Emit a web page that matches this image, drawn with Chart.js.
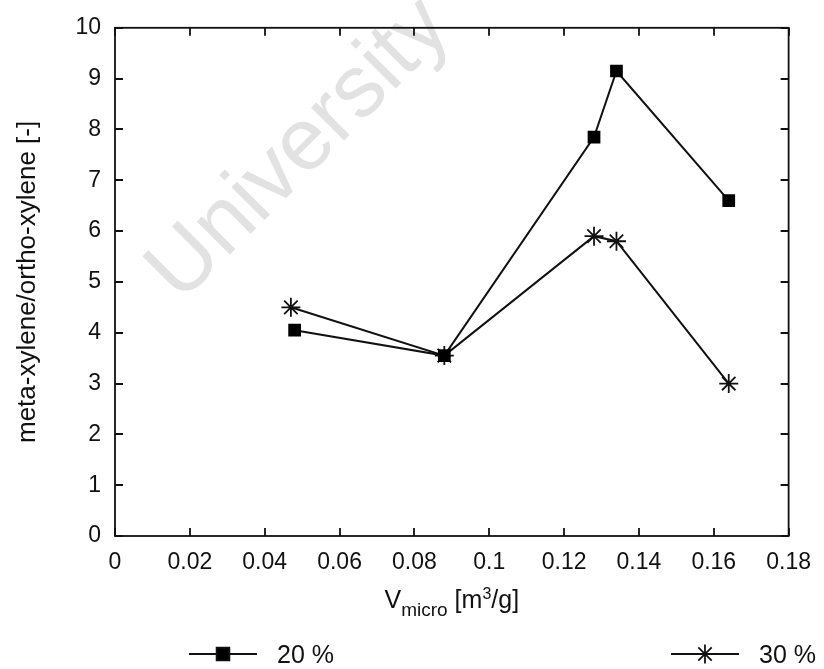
<!DOCTYPE html>
<html>
<head>
<meta charset="utf-8">
<script src="https://cdn.jsdelivr.net/npm/chart.js@4/dist/chart.umd.min.js"></script>
<style>
  html, body { margin: 0; padding: 0; background: #fff; }
  #wrap { width: 824px; height: 669px; position: relative; }
</style>
</head>
<body>
<div id="wrap"><canvas id="c" width="824" height="669"></canvas></div>
<script>
// micropore volume [m3/g] and meta/ortho xylene ratio per loading
const vmicro20 = [0.048, 0.088, 0.128, 0.134, 0.164];
const ratio20 = [4.05, 3.55, 7.85, 9.15, 6.6];
const vmicro30 = [0.047, 0.088, 0.128, 0.134, 0.164];
const ratio30 = [4.5, 3.55, 5.9, 5.8, 3.0];
const seriesNames = ['20 %', '30 %'];
const xTickLabels = ['0', '0.02', '0.04', '0.06', '0.08', '0.1', '0.12', '0.14', '0.16', '0.18'];
const yTickLabels = ['0', '1', '2', '3', '4', '5', '6', '7', '8', '9', '10'];

const FONT = "'Liberation Sans', Arial, Helvetica, sans-serif";

function toPoints(xs, ys) {
  return xs.map((x, i) => ({ x: x, y: ys[i] }));
}

// gnuplot-style frame with inward ticks on all four sides
const framePlugin = {
  id: 'frame',
  beforeDatasetsDraw(chart) {
    const { ctx } = chart;
    // faint watermark behind the data
    ctx.save();
    ctx.translate(300, 150);
    ctx.rotate(-45 * Math.PI / 180);
    ctx.fillStyle = '#e2e2e2';
    ctx.font = '88px ' + FONT;
    ctx.textAlign = 'center';
    ctx.textBaseline = 'middle';
    ctx.fillText('University', 0, 0);
    ctx.restore();
  },
  afterDatasetsDraw(chart) {
    const { ctx, chartArea: a, scales } = chart;
    ctx.save();
    ctx.strokeStyle = '#111';
    ctx.lineWidth = 1.8;
    ctx.strokeRect(a.left, a.top, a.right - a.left, a.bottom - a.top);
    const len = 8;
    ctx.beginPath();
    scales.x.ticks.forEach(t => {
      const px = Math.round(scales.x.getPixelForValue(t.value));
      ctx.moveTo(px, a.bottom); ctx.lineTo(px, a.bottom - len);
      ctx.moveTo(px, a.top); ctx.lineTo(px, a.top + len);
    });
    scales.y.ticks.forEach(t => {
      const py = Math.round(scales.y.getPixelForValue(t.value));
      ctx.moveTo(a.left, py); ctx.lineTo(a.left + len, py);
      ctx.moveTo(a.right, py); ctx.lineTo(a.right - len, py);
    });
    ctx.stroke();
    ctx.restore();
  },
  afterDraw(chart) {
    const { ctx, chartArea: a } = chart;
    ctx.save();
    ctx.fillStyle = '#111';
    ctx.textBaseline = 'alphabetic';

    // x title: V_micro [m^3/g]
    const cx = (a.left + a.right) / 2;
    const base = 608;
    const parts = [
      { t: 'V', size: 25, dy: 0 },
      { t: 'micro', size: 19, dy: 8 },
      { t: ' [m', size: 25, dy: 0 },
      { t: '3', size: 16, dy: -9 },
      { t: '/g]', size: 25, dy: 0 }
    ];
    let total = 0;
    parts.forEach(p => { ctx.font = p.size + 'px ' + FONT; p.w = ctx.measureText(p.t).width; total += p.w; });
    let x = cx - total / 2;
    parts.forEach(p => {
      ctx.font = p.size + 'px ' + FONT;
      ctx.fillText(p.t, x, base + p.dy);
      x += p.w;
    });

    // legend: line sample with marker, then the name
    const legendRow = 654;
    const items = [{ ds: 0, x0: 189 }, { ds: 1, x0: 671 }];
    items.forEach(it => {
      const ds = chart.data.datasets[it.ds];
      ctx.strokeStyle = '#111';
      ctx.fillStyle = '#000';
      ctx.lineWidth = 1.8;
      ctx.beginPath();
      ctx.moveTo(it.x0, legendRow); ctx.lineTo(it.x0 + 68, legendRow);
      ctx.stroke();
      Chart.helpers.drawPoint(ctx, {
        pointStyle: ds.pointStyle,
        radius: ds.pointRadius,
        borderWidth: 1.8
      }, it.x0 + 34, legendRow);
      ctx.fillStyle = '#111';
      ctx.font = '25px ' + FONT;
      ctx.fillText(seriesNames[it.ds], it.x0 + 88, legendRow + 9);
    });
    ctx.restore();
  }
};

new Chart(document.getElementById('c'), {
  type: 'scatter',
  data: {
    datasets: [
      {
        label: seriesNames[0],
        data: toPoints(vmicro20, ratio20),
        showLine: true,
        borderColor: '#111',
        backgroundColor: '#111',
        borderWidth: 2,
        pointStyle: 'rect',
        pointRadius: 9,
        pointBorderWidth: 0,
        pointBackgroundColor: '#000'
      },
      {
        label: seriesNames[1],
        data: toPoints(vmicro30, ratio30),
        showLine: true,
        borderColor: '#111',
        backgroundColor: '#111',
        borderWidth: 2,
        pointStyle: 'star',
        pointRadius: 9.5,
        pointBorderWidth: 1.8,
        pointBorderColor: '#111'
      }
    ]
  },
  options: {
    responsive: false,
    animation: false,
    devicePixelRatio: 1,
    layout: { padding: { top: 24, right: 34, left: 0, bottom: 0 } },
    plugins: {
      legend: { display: false },
      tooltip: { enabled: false }
    },
    scales: {
      x: {
        type: 'linear',
        min: 0,
        max: 0.18,
        afterFit(s) { s.height = 669 - 536; },
        afterBuildTicks(s) {
          s.ticks = xTickLabels.map(v => ({ value: parseFloat(v) }));
        },
        grid: { display: false, drawTicks: false },
        border: { display: false },
        ticks: {
          padding: 13,
          color: '#111',
          font: { family: FONT, size: 23 },
          maxRotation: 0,
          autoSkip: false,
          callback(v, i) { return xTickLabels[i]; }
        }
      },
      y: {
        type: 'linear',
        min: 0,
        max: 10,
        afterFit(s) { s.width = 115; },
        afterBuildTicks(s) {
          s.ticks = yTickLabels.map(v => ({ value: parseFloat(v) }));
        },
        grid: { display: false, drawTicks: false },
        border: { display: false },
        title: {
          display: true,
          text: 'meta-xylene/ortho-xylene [-]',
          color: '#111',
          font: { family: FONT, size: 26 },
          padding: { top: 12, bottom: 0 }
        },
        ticks: {
          padding: 14,
          color: '#111',
          font: { family: FONT, size: 23 },
          autoSkip: false,
          callback(v, i) { return yTickLabels[i]; }
        }
      }
    }
  },
  plugins: [framePlugin]
});
</script>
</body>
</html>
